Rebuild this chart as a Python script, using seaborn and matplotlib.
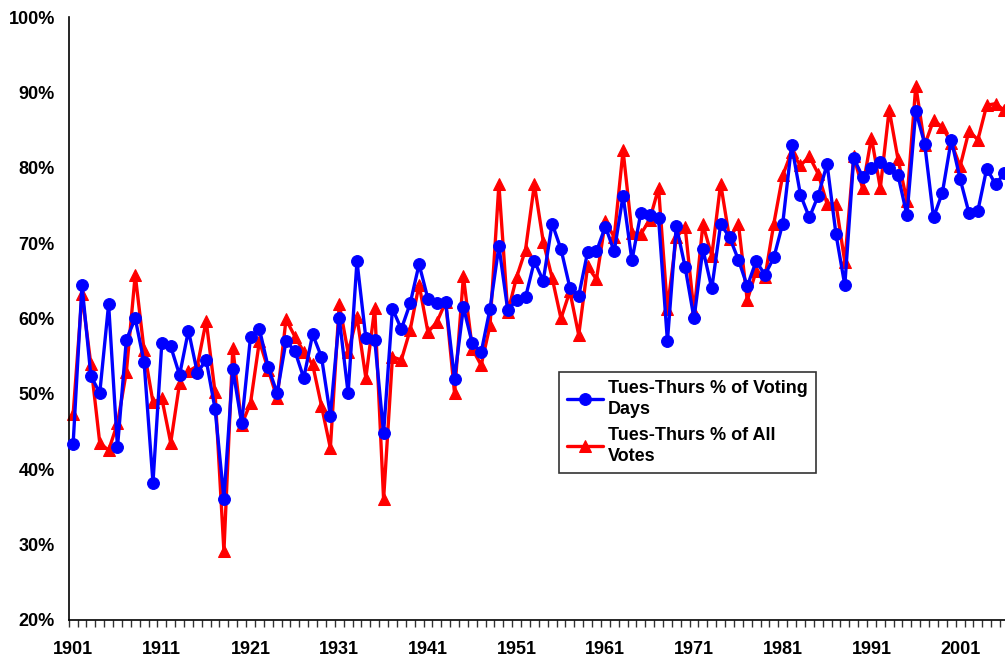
import numpy as np
import pandas as pd
import matplotlib
matplotlib.use("Agg")
import matplotlib.pyplot as plt
from matplotlib.ticker import FixedLocator, FuncFormatter
import seaborn as sns

years = list(range(1901, 2007))

voting_days = [
    43.4, 64.4, 52.4, 50.1, 61.9, 42.9, 57.2, 60.0, 54.2, 38.2,
    56.8, 56.3, 52.5, 58.4, 52.8, 54.5, 48.0, 36.1, 53.3, 46.1,
    57.6, 58.6, 53.5, 50.1, 57.0, 55.7, 52.1, 57.9, 54.9, 47.1,
    60.1, 50.1, 67.6, 57.4, 57.2, 44.8, 61.3, 58.6, 62.0, 67.2,
    62.6, 62.1, 62.2, 52.0, 61.5, 56.7, 55.5, 61.3, 69.6, 61.1,
    62.5, 62.8, 67.6, 65.0, 72.6, 69.2, 64.1, 63.0, 68.8, 68.9,
    72.2, 68.9, 76.3, 67.7, 74.0, 73.7, 73.3, 57.0, 72.3, 66.8,
    60.0, 69.2, 64.0, 72.5, 70.8, 67.8, 64.3, 67.6, 65.8, 68.1,
    72.6, 83.0, 76.4, 73.4, 76.3, 80.5, 71.2, 64.4, 81.3, 78.8,
    80.0, 80.8, 80.0, 79.0, 73.7, 87.5, 83.2, 73.4, 76.7, 83.7,
    78.5, 74.0, 74.3, 79.9, 77.8, 79.3,
]

all_votes = [
    47.3, 63.2, 53.9, 43.5, 42.5, 46.1, 52.9, 65.8, 55.8, 48.9,
    49.4, 43.5, 51.4, 53.0, 53.7, 59.7, 50.2, 29.1, 56.1, 45.9,
    48.8, 57.0, 53.2, 49.4, 59.9, 57.6, 55.6, 53.9, 48.4, 42.8,
    61.9, 55.5, 60.2, 52.1, 61.4, 36.0, 54.9, 54.5, 58.5, 64.5,
    58.2, 59.5, 62.2, 50.1, 65.6, 56.0, 53.8, 59.1, 77.8, 60.8,
    65.5, 69.1, 77.8, 70.2, 65.4, 60.0, 63.6, 57.8, 66.9, 65.2,
    72.9, 70.8, 82.3, 71.4, 71.2, 73.1, 77.3, 61.3, 70.8, 72.1,
    60.8, 72.5, 68.3, 77.9, 70.6, 72.6, 62.4, 66.3, 65.5, 72.6,
    79.0, 82.1, 80.3, 81.5, 79.2, 75.2, 75.2, 67.5, 81.5, 77.3,
    84.0, 77.3, 87.7, 81.1, 75.6, 90.9, 83.0, 86.3, 85.4, 83.3,
    80.2, 84.9, 83.7, 88.3, 88.5, 87.6,
]

label_days = "Tues-Thurs % of Voting\nDays"
label_votes = "Tues-Thurs % of All\nVotes"

y_ticks = [20, 30, 40, 50, 60, 70, 80, 90, 100]
x_label_years = list(range(1901, 2002, 10))

sns.set_style("white")
plt.rcParams['font.family'] = ['Liberation Sans', 'DejaVu Sans']
plt.rcParams['font.weight'] = 'bold'
plt.rcParams['text.color'] = 'black'
plt.rcParams['xtick.labelcolor'] = 'black'
plt.rcParams['ytick.labelcolor'] = 'black'

fig = plt.figure(figsize=(10.05, 6.56), dpi=100)
ax = fig.add_axes([68.7 / 1005, 36 / 656, (1005 - 68.7) / 1005, 603 / 656])

sns.lineplot(x=years, y=voting_days, ax=ax, color="#0000FF", marker="o",
             markersize=8.5, markeredgecolor="#0000FF", linewidth=2.4,
             label=label_days, clip_on=False, zorder=3)
sns.lineplot(x=years, y=all_votes, ax=ax, color="#FF0000", marker="^",
             markersize=8.5, markeredgecolor="#FF0000", linewidth=2.4,
             label=label_votes, clip_on=False, zorder=2)

ax.set_xlim(1900.5, 1900.5 + (1005 - 68.7) / 8.87)
ax.set_ylim(20, 100)

ax.yaxis.set_major_locator(FixedLocator(y_ticks))
ax.yaxis.set_major_formatter(FuncFormatter(lambda v, p: f"{int(v)}%"))
ax.xaxis.set_major_locator(FixedLocator(x_label_years))
ax.xaxis.set_major_formatter(FuncFormatter(lambda v, p: f"{int(v)}"))
ax.xaxis.set_minor_locator(FixedLocator([y - 0.5 for y in years] + [years[-1] + 0.5]))

ax.tick_params(axis='y', which='major', direction='out', length=5, width=1,
               color='black', pad=5, labelsize=13, labelcolor='black')
ax.tick_params(axis='x', which='major', length=0, pad=15, labelsize=13,
               labelcolor='black')
ax.tick_params(axis='x', which='minor', direction='out', length=5, width=1,
               color='#333333', bottom=True)
for lbl in ax.get_xticklabels() + ax.get_yticklabels():
    lbl.set_fontweight('bold')

for side in ['top', 'right']:
    ax.spines[side].set_visible(False)
for side in ['left', 'bottom']:
    ax.spines[side].set_color('black')
    ax.spines[side].set_linewidth(1.2)
ax.grid(False)
ax.set_xlabel("")
ax.set_ylabel("")

leg = ax.legend(loc='upper left', bbox_to_anchor=(559 / 1005, 1 - 372 / 656),
                bbox_transform=fig.transFigure, borderaxespad=0,
                frameon=True, fancybox=False, edgecolor='black',
                prop={'weight': 'bold', 'size': 13}, handlelength=2.0,
                handletextpad=0.25, borderpad=0.45, labelspacing=0.5)
leg.get_frame().set_linewidth(1.2)
for t in leg.get_texts():
    t.set_linespacing(1.3)
    t.set_color('black')

fig.savefig("out.png", dpi=100)
